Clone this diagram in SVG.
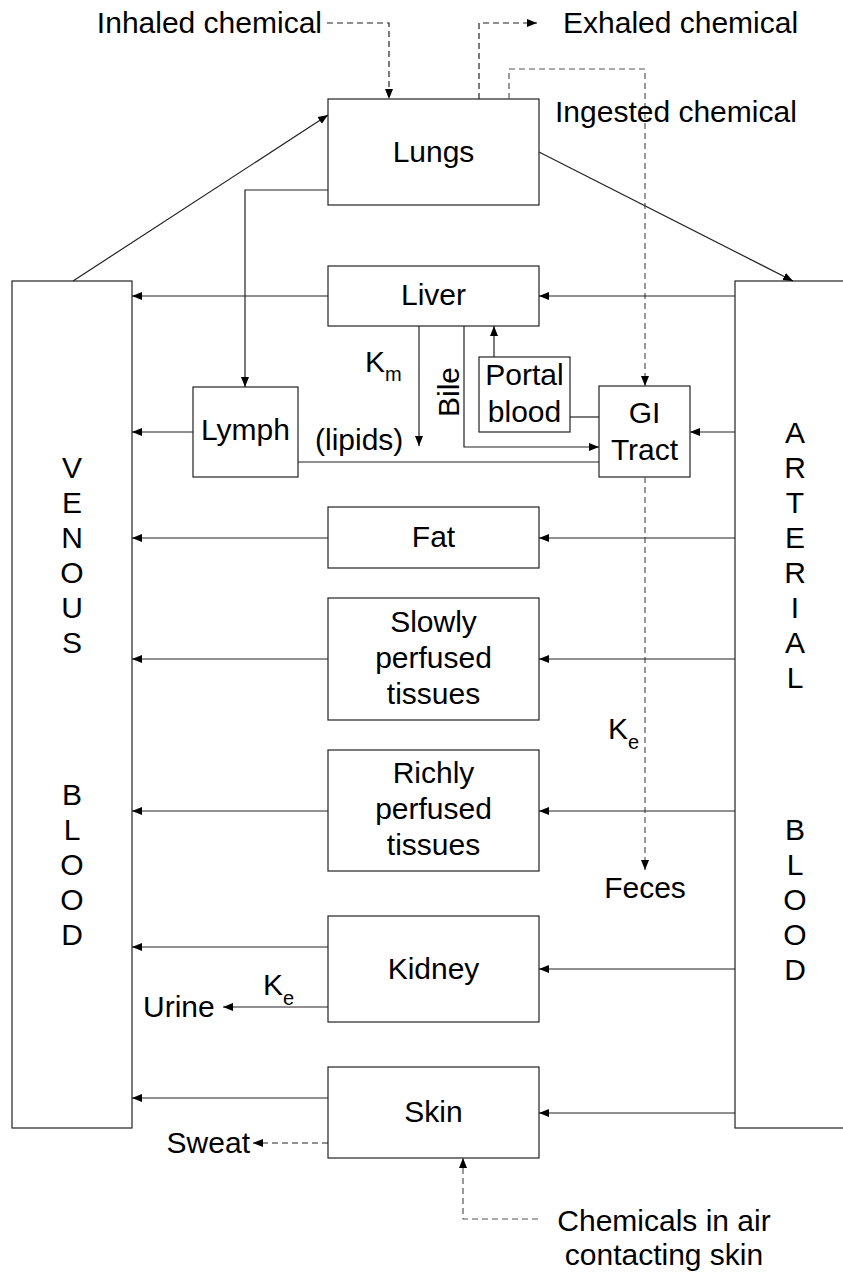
<svg xmlns="http://www.w3.org/2000/svg" width="843" height="1272" viewBox="0 0 843 1272">
<style>
text{font-family:"Liberation Sans",Arial,sans-serif;font-size:30px;fill:#000}
.m{text-anchor:middle}
.sub{font-size:20px}
.box{fill:#fff;stroke:#222;stroke-width:1.2}
.ln{fill:none;stroke:#222;stroke-width:1.2}
.ds{fill:none;stroke:#222;stroke-width:1.2;stroke-dasharray:6 4}
.dg{fill:none;stroke:#555;stroke-width:1.2;stroke-dasharray:6 4}
</style>
<defs>
<marker id="a" viewBox="0 0 10 10" refX="10" refY="5" markerWidth="10" markerHeight="10" markerUnits="userSpaceOnUse" orient="auto">
<path d="M0,1 L10,5 L0,9 Z" fill="#000"/>
</marker>
</defs>

<g id="venous">
<rect class="box" x="12" y="281" width="120" height="847"/>
<text class="m" x="72" y="478">V</text>
<text class="m" x="72" y="513">E</text>
<text class="m" x="72" y="548">N</text>
<text class="m" x="72" y="583">O</text>
<text class="m" x="72" y="618">U</text>
<text class="m" x="72" y="653">S</text>
<text class="m" x="72" y="805">B</text>
<text class="m" x="72" y="840">L</text>
<text class="m" x="72" y="875">O</text>
<text class="m" x="72" y="910">O</text>
<text class="m" x="72" y="945">D</text>
</g>
<g id="arterial">
<rect class="box" x="735" y="281" width="130" height="847"/>
<text class="m" x="795" y="443">A</text>
<text class="m" x="795" y="478">R</text>
<text class="m" x="795" y="513">T</text>
<text class="m" x="795" y="548">E</text>
<text class="m" x="795" y="583">R</text>
<text class="m" x="795" y="618">I</text>
<text class="m" x="795" y="653">A</text>
<text class="m" x="795" y="688">L</text>
<text class="m" x="795" y="840">B</text>
<text class="m" x="795" y="875">L</text>
<text class="m" x="795" y="910">O</text>
<text class="m" x="795" y="945">O</text>
<text class="m" x="795" y="980">D</text>
</g>
<g id="lungs">
<rect class="box" x="328" y="99" width="211" height="106"/>
<text class="m" x="433.5" y="162">Lungs</text>
</g>
<g id="liver">
<rect class="box" x="328" y="266" width="211" height="60"/>
<text class="m" x="433.5" y="305">Liver</text>
</g>
<g id="lymph">
<rect class="box" x="193" y="387" width="105" height="90"/>
<text class="m" x="245.5" y="440">Lymph</text>
</g>
<g id="portal">
<rect class="box" x="479" y="357" width="91" height="75"/>
<text class="m" x="524.5" y="385">Portal</text>
<text class="m" x="524.5" y="422">blood</text>
</g>
<g id="gi">
<rect class="box" x="599" y="386" width="91" height="91"/>
<text class="m" x="644.5" y="423">GI</text>
<text class="m" x="644.5" y="460">Tract</text>
</g>
<g id="fat">
<rect class="box" x="328" y="507" width="211" height="61"/>
<text class="m" x="433.5" y="547">Fat</text>
</g>
<g id="slowly">
<rect class="box" x="328" y="598" width="211" height="122"/>
<text class="m" x="433.5" y="632">Slowly</text>
<text class="m" x="433.5" y="668">perfused</text>
<text class="m" x="433.5" y="704">tissues</text>
</g>
<g id="richly">
<rect class="box" x="328" y="750" width="211" height="121"/>
<text class="m" x="433.5" y="783">Richly</text>
<text class="m" x="433.5" y="819">perfused</text>
<text class="m" x="433.5" y="855">tissues</text>
</g>
<g id="kidney">
<rect class="box" x="328" y="916" width="211" height="106"/>
<text class="m" x="433.5" y="979">Kidney</text>
</g>
<g id="skin">
<rect class="box" x="328" y="1067" width="211" height="91"/>
<text class="m" x="433.5" y="1122">Skin</text>
</g>

<g id="connectors">
<path class="ds" d="M327,23 H389 V99" marker-end="url(#a)"/>
<path class="ds" d="M479,99 V23 H537" marker-end="url(#a)"/>
<path class="dg" d="M509,99 V69 H645 V386" marker-end="url(#a)"/>
<path class="dg" d="M645,477 V870" marker-end="url(#a)"/>
<path class="ln" d="M73,281 L328,115" marker-end="url(#a)"/>
<path class="ln" d="M539,152 L793,281" marker-end="url(#a)"/>
<path class="ln" d="M328,190 H245 V387" marker-end="url(#a)"/>
<path class="ln" d="M328,296 H132" marker-end="url(#a)"/>
<path class="ln" d="M735,296 H539" marker-end="url(#a)"/>
<path class="ln" d="M193,432 H132" marker-end="url(#a)"/>
<path class="ln" d="M419,326 V446" marker-end="url(#a)"/>
<path class="ln" d="M464,326 V447 H599" marker-end="url(#a)"/>
<path class="ln" d="M494,357 V326" marker-end="url(#a)"/>
<path class="ln" d="M570,417 H599"/>
<path class="ln" d="M298,462 H599"/>
<path class="ln" d="M735,432 H690" marker-end="url(#a)"/>
<path class="ln" d="M328,538 H132" marker-end="url(#a)"/>
<path class="ln" d="M735,538 H539" marker-end="url(#a)"/>
<path class="ln" d="M328,659 H132" marker-end="url(#a)"/>
<path class="ln" d="M735,659 H539" marker-end="url(#a)"/>
<path class="ln" d="M328,811 H132" marker-end="url(#a)"/>
<path class="ln" d="M735,811 H539" marker-end="url(#a)"/>
<path class="ln" d="M328,947 H132" marker-end="url(#a)"/>
<path class="ln" d="M735,969 H539" marker-end="url(#a)"/>
<path class="ln" d="M328,1007 H223" marker-end="url(#a)"/>
<path class="ln" d="M328,1098 H132" marker-end="url(#a)"/>
<path class="ln" d="M735,1113 H539" marker-end="url(#a)"/>
<path class="ds" d="M328,1143 H253" marker-end="url(#a)"/>
<path class="dg" d="M538,1219 H463 V1158" marker-end="url(#a)"/>
</g>

<g id="labels">
<text x="322" y="33" text-anchor="end">Inhaled chemical</text>
<text x="563" y="33">Exhaled chemical</text>
<text x="555" y="122">Ingested chemical</text>
<text x="365" y="372">K<tspan class="sub" dy="9">m</tspan></text>
<text transform="translate(459,392) rotate(-90)" class="m">Bile</text>
<text x="315" y="450">(lipids)</text>
<text x="608" y="739">K<tspan class="sub" dy="10">e</tspan></text>
<text class="m" x="645" y="898">Feces</text>
<text x="143" y="1017">Urine</text>
<text x="263" y="995">K<tspan class="sub" dy="10">e</tspan></text>
<text x="250" y="1153" text-anchor="end">Sweat</text>
<text class="m" x="664" y="1231">Chemicals in air</text>
<text class="m" x="664" y="1265">contacting skin</text>
</g>
</svg>
